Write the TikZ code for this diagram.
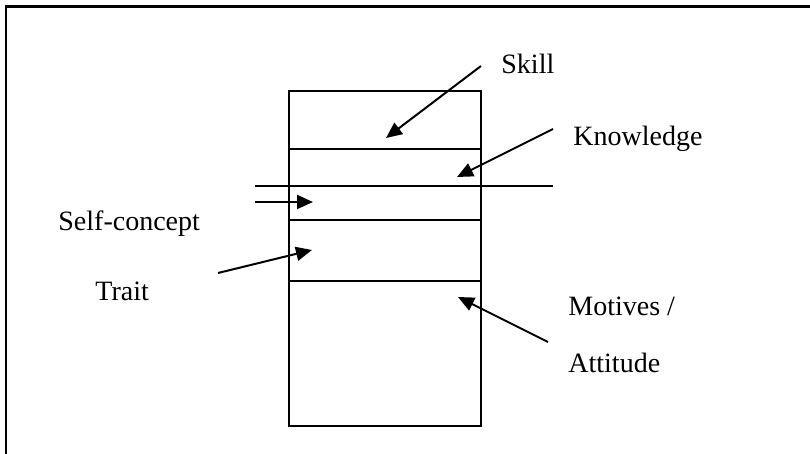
\documentclass[tikz,border=0pt]{standalone}
\usepackage{fontspec}
\setmainfont{Liberation Serif}
\usetikzlibrary{arrows.meta}
\tikzset{
	lbl/.style={anchor=base west, inner sep=0pt, font=\fontsize{14}{17}\selectfont},
	pointer/.style={line width=1pt, -{Triangle[length=8pt,width=7pt]}},
	layer/.style={line width=1pt}
}
\begin{document}
\begin{tikzpicture}[x=.5pt,y=-.5pt]
				\useasboundingbox (0,0) rectangle (810,454);
				\draw[line width=1.4pt] (6,470) -- (6,6.5) -- (830,6.5);
				
				\coordinate (boxtl) at (289,91);
				\coordinate (boxbr) at (481,426);
				\draw[layer] (boxtl) rectangle (boxbr);
				\foreach \y in {149,220,281}
					\draw[layer] (289,\y) -- (481,\y);
				\draw[layer] (255,186) -- (553,186);
				
				\node[lbl] (skill) at (501,74) {Skill};
				\node[lbl] (knowledge) at (573,146) {Knowledge};
				\node[lbl] (selfconcept) at (58,231) {Self-concept};
				\node[lbl] (trait) at (95,301) {Trait};
				\node[lbl] (motives) at (568,316) {Motives /};
				\node[lbl] (attitude) at (568,373) {Attitude};
				
				\coordinate (skillfrom) at (481,66);
				\coordinate (skilltip) at (386,138);
				\coordinate (knowfrom) at (553,129);
				\coordinate (knowtip) at (457,177);
				\coordinate (selffrom) at (255,202);
				\coordinate (selftip) at (313,202);
				\coordinate (traitfrom) at (218,273);
				\coordinate (traittip) at (312,250);
				\coordinate (motfrom) at (548,342);
				\coordinate (mottip) at (458,297);
				\draw[pointer] (skillfrom) -- (skilltip);
				\draw[pointer] (knowfrom) -- (knowtip);
				\draw[pointer] (selffrom) -- (selftip);
				\draw[pointer] (traitfrom) -- (traittip);
				\draw[pointer] (motfrom) -- (mottip);
			\end{tikzpicture}
\end{document}
